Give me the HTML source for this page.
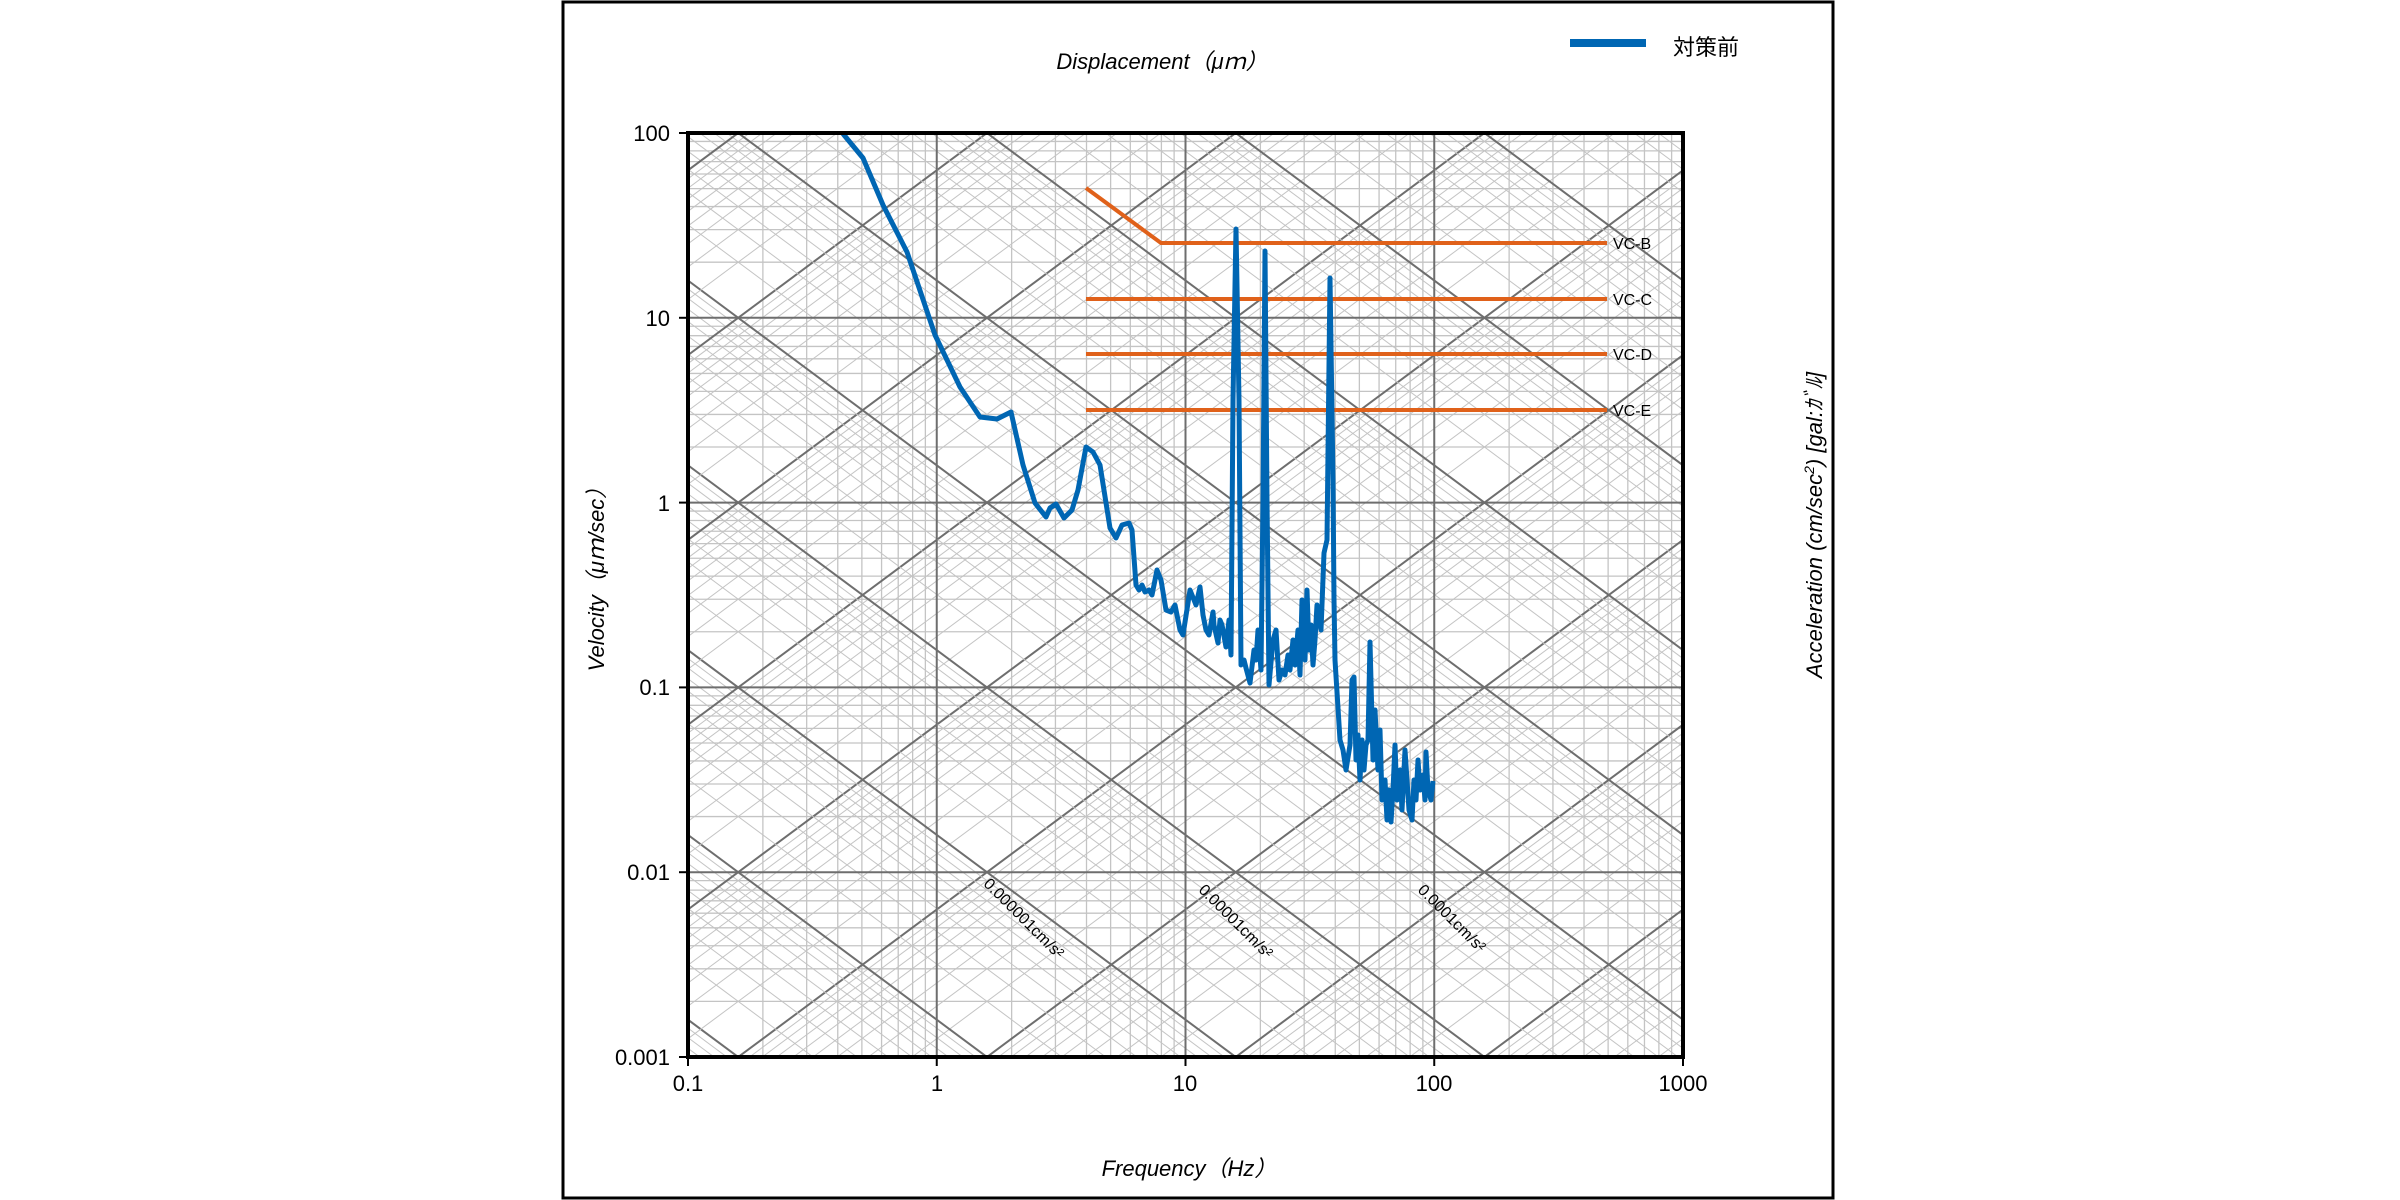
<!DOCTYPE html>
<html><head><meta charset="utf-8"><style>
html,body{margin:0;padding:0;background:#fff;width:2400px;height:1200px;overflow:hidden;}
svg{display:block;font-family:"Liberation Sans","Noto Sans CJK JP",sans-serif;}
</style></head><body>
<svg id="s" width="2400" height="1200" viewBox="0 0 2400 1200" xmlns="http://www.w3.org/2000/svg">
<rect x="563" y="2" width="1270" height="1196" fill="#fff" stroke="#000" stroke-width="3"/>
<defs><clipPath id="cp"><rect x="688" y="133" width="995" height="924"/></clipPath></defs>
<g id="grid" clip-path="url(#cp)"></g>
<g fill="none" stroke="#e0611a" stroke-width="4">
<polyline points="1086,188 1161,243 1607,243"/>
<line x1="1086" y1="299" x2="1607" y2="299"/>
<line x1="1086" y1="354" x2="1607" y2="354"/>
<line x1="1086" y1="410" x2="1607" y2="410"/>
</g>
<g font-size="16" fill="#000">
<text x="1613" y="249">VC-B</text>
<text x="1613" y="305">VC-C</text>
<text x="1613" y="360">VC-D</text>
<text x="1613" y="416">VC-E</text>
</g>
<polyline clip-path="url(#cp)" fill="none" stroke="#0066b3" stroke-width="5" stroke-linejoin="round" points="
838,127 844,135 863,158 883,205 907,252 935,335 960,387 980,417 997,419 1011,412 1023,465 1035,503 1046,517 1050,508 1056,504 1064,518 1072,510 1078,490 1086,447 1093,452 1100,465 1110,528 1116,538 1122,525 1129,523 1132,530 1136,585 1139,590 1142,585 1145,592 1149,590 1152,595 1157,570 1161,580 1166,610 1171,612 1175,605 1180,630 1183,635 1190,590 1192,595 1196,605 1200,587 1203,615 1206,630 1209,635 1213,612 1214,625 1218,643 1220,620 1222,625 1226,647 1229,620 1231,655 1233,400 1236,229 1239,400 1241,665 1244,660 1246,668 1250,683 1254,650 1256,660 1258,630 1261,670 1263,500 1265,251 1267,500 1269,685 1273,640 1276,630 1279,680 1282,670 1285,675 1288,655 1290,670 1293,640 1295,665 1298,630 1300,675 1302,600 1305,660 1307,590 1309,650 1311,625 1313,665 1315,640 1317,605 1321,630 1324,553 1327,540 1330,278 1333,480 1334,600 1335,660 1340,740 1343,750 1346,770 1350,745 1352,680 1354,677 1356,760 1358,735 1360,780 1362,740 1364,770 1366,745 1368,740 1370,642 1373,760 1375,710 1378,770 1380,730 1382,800 1385,780 1387,820 1389,790 1391,822 1393,790 1395,745 1397,800 1400,770 1402,810 1405,750 1407,780 1409,810 1412,820 1414,780 1416,800 1418,760 1420,790 1423,775 1425,800 1426,752 1428,790 1431,800 1433,781"/>
<rect x="688" y="133" width="995" height="924" fill="none" stroke="#000" stroke-width="4"/>
<g id="ticks" stroke="#000" stroke-width="2"></g>
<g font-size="22" fill="#000" text-anchor="end">
<text x="670" y="141">100</text>
<text x="670" y="326">10</text>
<text x="670" y="511">1</text>
<text x="670" y="695">0.1</text>
<text x="670" y="880">0.01</text>
<text x="670" y="1065">0.001</text>
</g>
<g font-size="22" fill="#000" text-anchor="middle">
<text x="688" y="1091">0.1</text>
<text x="937" y="1091">1</text>
<text x="1185" y="1091">10</text>
<text x="1434" y="1091">100</text>
<text x="1683" y="1091">1000</text>
</g>
<g font-size="22" font-style="italic" fill="#000" text-anchor="middle">
<text x="1162" y="69">Displacement（μｍ）</text>
<text x="1189" y="1176">Frequency（Hz）</text>
<text transform="translate(604,574) rotate(-90)">Velocity（μｍ/sec）</text>
<text transform="translate(1822,525) rotate(-90)">Acceleration (cm/sec<tspan font-size="14" dy="-8">2</tspan><tspan dy="8">) [gal:ｶﾞﾙ]</tspan></text>
</g>
<g font-size="16" fill="#000" text-anchor="middle">
<text transform="translate(1020,922) rotate(45)">0.000001cm/s²</text>
<text transform="translate(1232,925) rotate(45)">0.00001cm/s²</text>
<text transform="translate(1448,922) rotate(45)">0.0001cm/s²</text>
</g>
<rect x="1570" y="39" width="76" height="8" fill="#0066b3"/>
<text x="1673" y="55" font-size="22" fill="#000">対策前</text>
</svg>
<script>
(function(){
var NS="http://www.w3.org/2000/svg";
var g=document.getElementById('grid');
function X(lf){return 688+(lf+1)*248.75;}
function Y(lv){return 133+(2-lv)*184.8;}
function ln(x1,y1,x2,y2,c,w){var l=document.createElementNS(NS,'line');l.setAttribute('x1',x1);l.setAttribute('y1',y1);l.setAttribute('x2',x2);l.setAttribute('y2',y2);l.setAttribute('stroke',c);l.setAttribute('stroke-width',w);g.appendChild(l);}
var minor='#c4c4c4',major='#6e6e6e';
for(var k=-1;k<3;k++)for(var m=2;m<10;m++){var x=X(k+Math.log10(m));ln(x,133,x,1057,minor,1.3);}
for(var k=-3;k<2;k++)for(var m=2;m<10;m++){var y=Y(k+Math.log10(m));ln(688,y,1683,y,minor,1.3);}
var tp=Math.log10(2*Math.PI);
for(var k=-8;k<6;k++)for(var m=1;m<10;m++){
 var c=k+Math.log10(m);
 var w=m==1?2:1, col=m==1?major:minor;
 var a=c+tp;
 ln(X(-1),Y(-1+a),X(3),Y(3+a),col,w);
 var d=c-tp;
 ln(X(-1),Y(1+d),X(3),Y(-3+d),col,w);
}
for(var k=0;k<4;k++){var x=X(k);ln(x,133,x,1057,major,2);}
for(var k=-2;k<2;k++){var y=Y(k);ln(688,y,1683,y,major,2);}
var t=document.getElementById('ticks');
function tk(x1,y1,x2,y2){var l=document.createElementNS(NS,'line');l.setAttribute('x1',x1);l.setAttribute('y1',y1);l.setAttribute('x2',x2);l.setAttribute('y2',y2);t.appendChild(l);}
for(var k=-1;k<4;k++){var x=X(k);tk(x,1057,x,1066);}
for(var k=-3;k<3;k++){var y=Y(k);tk(679,y,688,y);}
})();
</script>
</body></html>
